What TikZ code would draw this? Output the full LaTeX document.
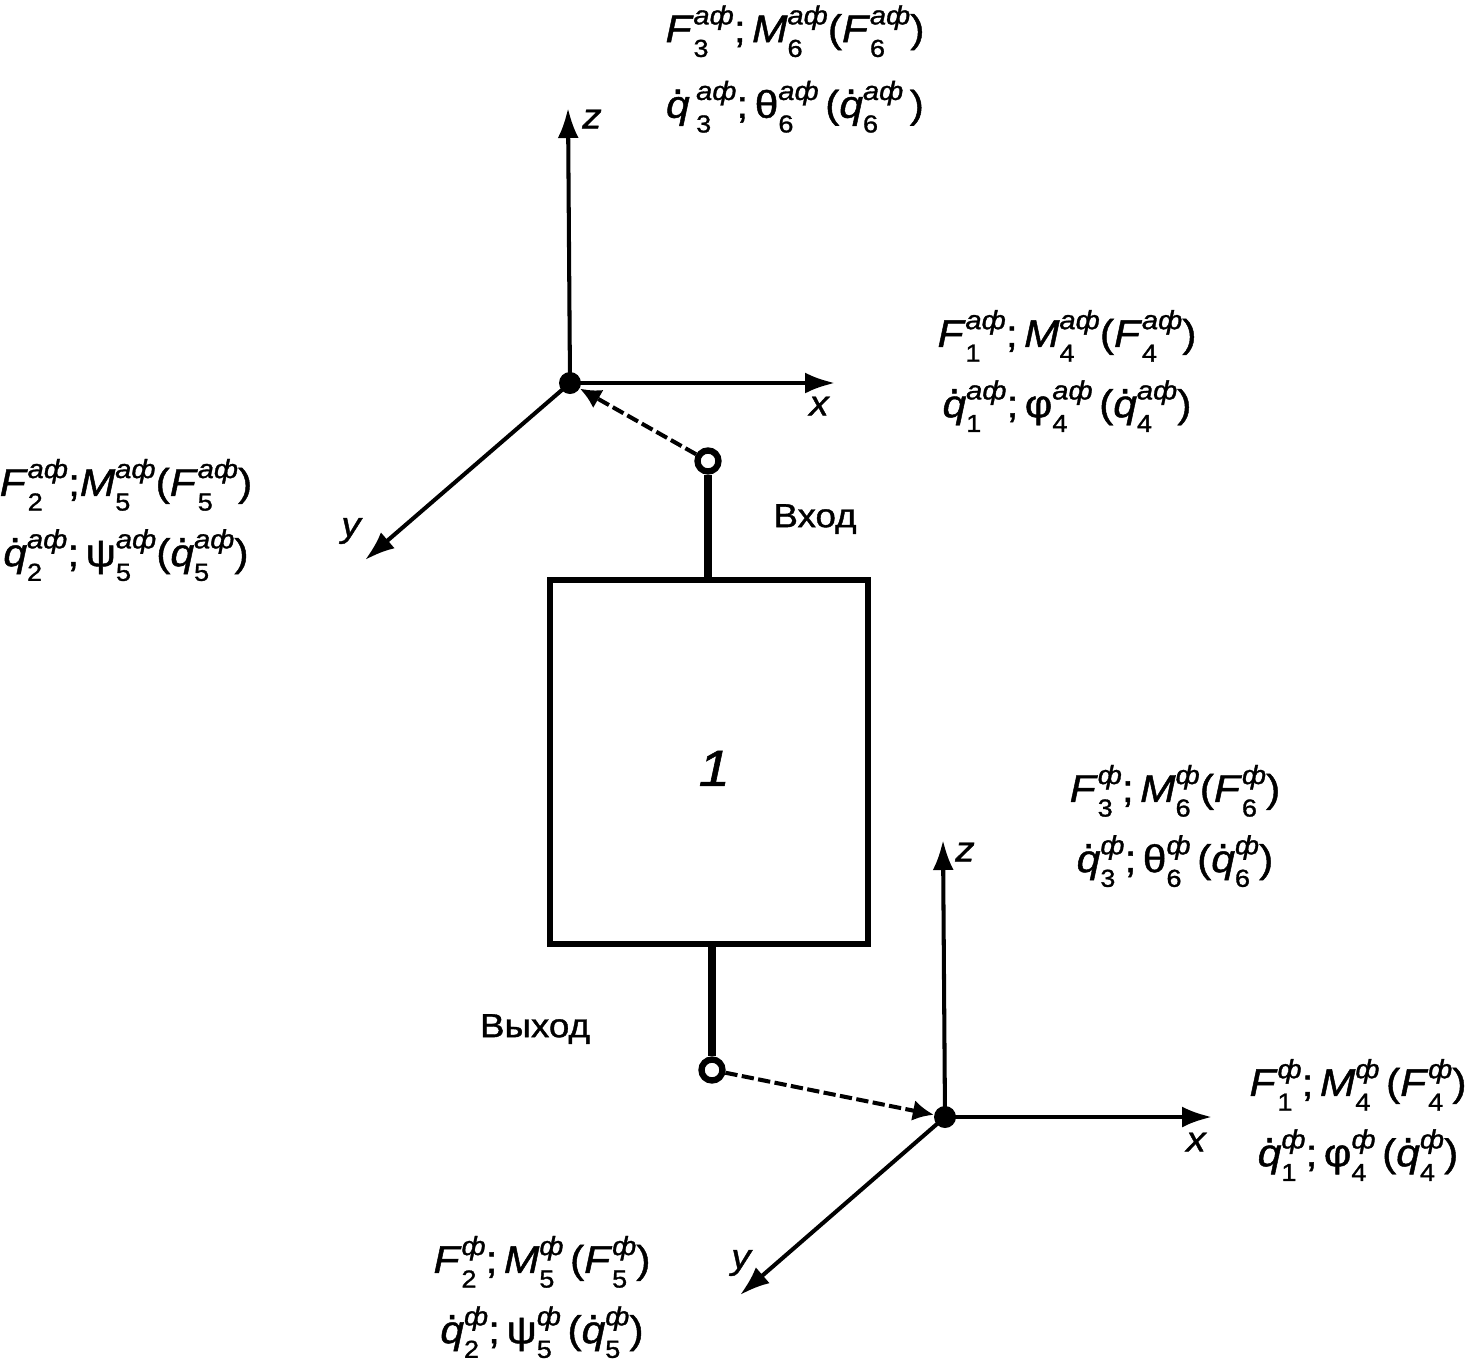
\documentclass[tikz,border=0pt]{standalone}
\usepackage{fontspec}
\setmainfont{Liberation Sans}[FakeStretch=1.1, FakeBold=1.2]
\usepackage{tikz}
\usetikzlibrary{arrows.meta, positioning}

\newcommand{\supf}{\fontsize{15pt}{15pt}\selectfont\itshape}
% upper and lower index one above the other
\newcommand{\idx}[2]{\leavevmode\setbox0\hbox{\raisebox{0.46em}{\supf #1}}\setbox2\hbox{\raisebox{-0.38em}{\fontsize{14pt}{14pt}\selectfont #2}}\ifdim\wd0>\wd2 \rlap{\box2}\box0\else\rlap{\box0}\box2\fi}
\newcommand{\qdot}{\ooalign{\hfil\raisebox{0.62em}{.}\hfil\cr\textit{q}\cr}}

\begin{document}
\begin{tikzpicture}[
    x=0.02cm, y=-0.02cm,
    >={Latex[length=0.6cm, width=0.42cm]}, % Default arrow tip
    axis/.style={->, line width=2.3pt}, % Style for axes
    link/.style={->, >={Latex[length=0.42cm, width=0.42cm]}, line width=2.3pt, dash pattern=on 7pt off 2.5pt}, % Dashed links to the origins
    stub/.style={line width=4.3pt}, % Style for the block leads
    origin/.style={circle, fill=black, inner sep=0pt, minimum size=0.44cm}, % Origin dots
    pin/.style={circle, draw, fill=white, line width=3.6pt, inner sep=0pt, minimum size=0.42cm}, % Open end of a lead
    block/.style={draw, line width=3.4pt, minimum width=6.38cm, minimum height=7.3cm, inner sep=0pt, font=\fontsize{29pt}{29pt}\selectfont\itshape},
    axislabel/.style={font=\fontsize{20pt}{20pt}\selectfont\itshape},
    portlabel/.style={font=\fontsize{19pt}{19pt}\selectfont},
    forces/.style={align=center, inner sep=0pt, font=\fontsize{22pt}{40pt}\selectfont}
]
    \useasboundingbox (0,0) rectangle (1467,1360);

    % --- Block ---
    \node[block] (blk) at (709,762) {\raisebox{-13.6pt}[0pt][0pt]{\hspace{6pt}1}};
    \node[pin] (inpin) at (708,461) {};
    \node[pin] (outpin) at (712,1070) {};
    \draw[stub] (inpin) -- (inpin |- blk.north);
    \draw[stub] (blk.south -| outpin) -- (outpin);
    \node[portlabel] (inlabel) at (815,519) {Вход};
    \node[portlabel] (outlabel) at (535,1029) {Выход};

    % --- Upper axes ---
    \node[origin] (ua) at (570,383) {};
    \coordinate (uz) at (568,108);
    \coordinate (ux) at (835,383);
    \coordinate (uy) at (365,560);
    \draw[axis] (ua.center) -- (uz);
    \draw[axis] (ua.center) -- (ux);
    \draw[axis] (ua.center) -- (uy);
    \draw[link] (inpin) -- (ua);
    \node[axislabel] (uzl) at (592,119) {z};
    \node[axislabel] (uxl) at (819,406) {x};
    \node[axislabel] (uyl) at (351,531) {y};

    % --- Lower axes ---
    \node[origin] (la) at (945,1117) {};
    \coordinate (lz) at (943,840);
    \coordinate (lx) at (1212,1117);
    \coordinate (ly) at (740,1295);
    \draw[axis] (la.center) -- (lz);
    \draw[axis] (la.center) -- (lx);
    \draw[axis] (la.center) -- (ly);
    \draw[link] (outpin) -- (la);
    \node[axislabel] (lzl) at (965,852) {z};
    \node[axislabel] (lxl) at (1196,1142) {x};
    \node[axislabel] (lyl) at (741,1263) {y};

    % --- Force and motion labels ---
    \node[forces] (uzf) at (795,69) {\textit{F}\idx{аф}{3};\,\textit{M}\idx{аф}{6}(\textit{F}\idx{аф}{6})\\[3pt]\qdot\,\idx{аф}{3};\,θ\idx{аф}{6}\,(\qdot\idx{аф}{6}\,)};
    \node[forces] (uxf) at (1067,371) {\textit{F}\idx{аф}{1};\,\textit{M}\idx{аф}{4}(\textit{F}\idx{аф}{4})\\\qdot\idx{аф}{1};\,φ\idx{аф}{4}\,(\qdot\idx{аф}{4})};
    \node[forces] (uyf) at (126,520) {\textit{F}\idx{аф}{2};\textit{M}\idx{аф}{5}(\textit{F}\idx{аф}{5})\\\qdot\idx{аф}{2};\,ψ\idx{аф}{5}(\qdot\idx{аф}{5})};
    \node[forces] (lzf) at (1175,826) {\textit{F}\idx{ф}{3};\,\textit{M}\idx{ф}{6}(\textit{F}\idx{ф}{6})\\\qdot\idx{ф}{3};\,θ\idx{ф}{6}\,(\qdot\idx{ф}{6})};
    \node[forces] (lxf) at (1358,1120) {\textit{F}\idx{ф}{1};\,\textit{M}\idx{ф}{4}\,(\textit{F}\idx{ф}{4})\\\qdot\idx{ф}{1};\,φ\idx{ф}{4}\,(\qdot\idx{ф}{4})};
    \node[forces] (lyf) at (542,1297) {\textit{F}\idx{ф}{2};\,\textit{M}\idx{ф}{5}\,(\textit{F}\idx{ф}{5})\\\qdot\idx{ф}{2};\,ψ\idx{ф}{5}\,(\qdot\idx{ф}{5})};

\end{tikzpicture}
\end{document}
